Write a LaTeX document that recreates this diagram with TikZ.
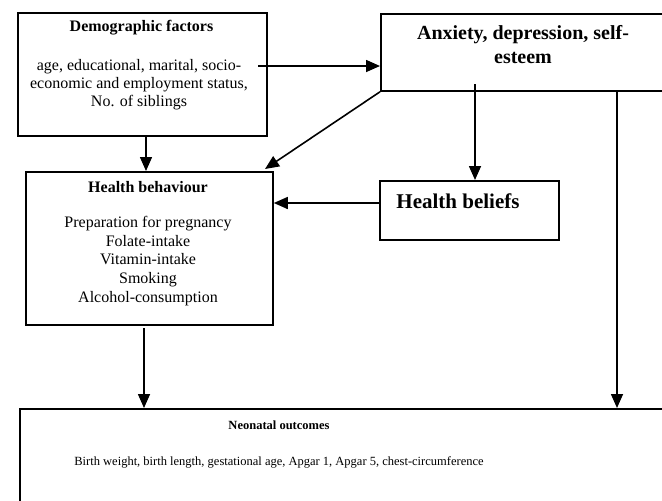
\documentclass[tikz,border=0pt]{standalone}
\usepackage{fontspec}
\setmainfont{Liberation Serif}
\usetikzlibrary{arrows.meta}
\newcommand{\fsz}[2]{\fontsize{#1}{#2}\selectfont}
\begin{document}
\begin{tikzpicture}[x=1pt,y=-1pt,
  box/.style={draw,line width=1.8pt,inner sep=0pt,anchor=north west},
  txt/.style={inner sep=0pt,align=center},
  arr/.style={line width=1.6pt,-{Triangle[length=14pt,width=12pt]}}]
\useasboundingbox (0,0) rectangle (662,501);
\clip (0,0) rectangle (662,501);

% boxes
\node[box,minimum width=249pt,minimum height=123pt] (demo) at (17,12) {};
\node[box,minimum width=300pt,minimum height=77pt] (anx) at (380,13) {};
\node[box,minimum width=247pt,minimum height=153pt] (hb) at (25,171) {};
\node[box,minimum width=179pt,minimum height=59pt] (bel) at (379,180) {};
\node[box,minimum width=680pt,minimum height=120pt] (neo) at (19,408) {};

% texts
\node[txt,font=\fsz{16}{18}\bfseries] (demoT) at (141.5,28) {Demographic factors};
\node[txt,font=\fsz{16}{18}] (demoB) at (139,84.5) {age, educational, marital, socio-\\economic and employment status,\\No. of siblings};
\node[txt,font=\fsz{20}{24}\bfseries] (anxT) at (523,45) {Anxiety, depression, self-\\esteem};
\node[txt,font=\fsz{16}{18}\bfseries] (hbT) at (148,187) {Health behaviour};
\node[txt,font=\fsz{16}{18.75}] (hbB) at (148,261) {Preparation for pregnancy\\Folate-intake\\Vitamin-intake\\Smoking\\Alcohol-consumption};
\node[txt,font=\fsz{21}{24}\bfseries] (belT) at (458,201.5) {Health beliefs};
\node[txt,font=\fsz{12.5}{15}\bfseries] (neoT) at (279,425) {Neonatal outcomes};
\node[txt,font=\fsz{12.5}{15}] (neoB) at (279,462) {Birth weight, birth length, gestational age, Apgar 1, Apgar 5, chest-circumference};

% connector anchors
\coordinate (demoOut) at (258,66);
\coordinate (xDemo) at (146,0);
\coordinate (hbIn) at (265,169);
\coordinate (xAnx) at (475,84);
\coordinate (xHb) at (144,328);
\coordinate (xRight) at (617,0);

% connectors
\draw[arr] (demoOut) -- (demoOut -| anx.west);
\draw[arr] (demo.south -| xDemo) -- (hb.north -| xDemo);
\draw[arr] (anx.south west) -- (hbIn);
\draw[arr] (xAnx) -- (bel.north -| xAnx);
\draw[arr] (bel.west |- 0,203) -- (hb.east |- 0,203);
\draw[arr] (xHb) -- (neo.north -| xHb);
\draw[arr] (anx.south -| xRight) -- (neo.north -| xRight);
\end{tikzpicture}
\end{document}
